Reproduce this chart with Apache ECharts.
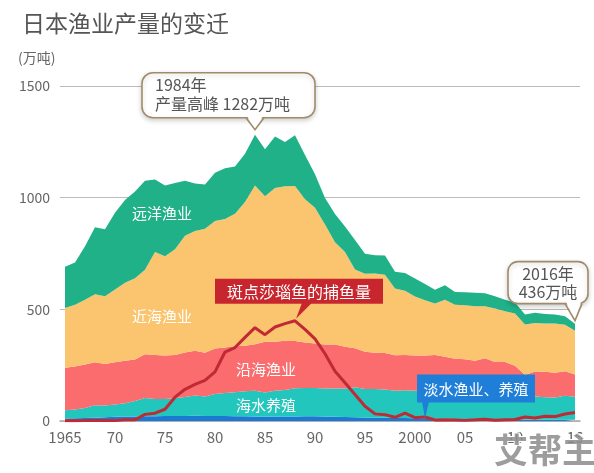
<!DOCTYPE html>
<html>
<head>
<meta charset="utf-8">
<script src="https://cdn.jsdelivr.net/npm/echarts@6/dist/echarts.min.js"></script>
<style>
html,body{margin:0;padding:0;background:#fff;}
#main{width:594px;height:473px;}
</style>
</head>
<body>
<div id="main"></div>
<script>
// Years (category axis)
const years = [];
for (let y = 1965; y <= 2016; y++) years.push(String(y));

// 淡水渔业、养殖 (万吨)
const freshwater = [11,12,13,15,17,19,20,20,21,21, 22,22,22,23,22,22,22,21,21,20, 19,20,20,20,21,21,20,19,18,17, 16,15,14,13,13,12,11,10,10,9, 8,8,8,7,7,7,6,6,6,6, 6,6];
// 海水养殖
const marineAqua = [37,40,45,55,52,55,60,69,82,78, 77,80,86,91,88,99,103,108,112,116, 109,115,119,127,127,127,126,127,127,134, 127,128,127,123,125,123,126,133,125,121, 121,118,124,115,120,111,87,104,100,99, 107,103];
// 沿海渔业
const coastal = [190,192,195,193,186,189,190,186,196,197, 194,193,199,200,196,204,204,206,204,208, 227,220,220,211,203,199,197,196,187,175, 167,163,164,158,158,158,156,152,153,149, 147,144,149,142,137,129,113,112,115,111, 110,99];
// 近海渔业
const offshore = [268,276,290,304,304,326,349,364,378,461, 445,474,522,537,555,570,576,593,644,710, 651,688,692,694,642,608,537,458,425,352, 349,354,350,299,287,265,248,231,255,241, 242,244,233,240,227,234,226,217,216,221, 208,196];
// 远洋渔业
const distant = [185,190,240,300,300,343,370,389,399,324, 317,297,247,212,198,217,227,211,216,228, 211,231,198,227,198,150,118,127,114,132, 90,82,86,75,80,80,72,62,65,58, 58,60,58,55,52,50,45,46,42,40, 38,32];
// 斑点莎瑙鱼的捕鱼量
const sardine = [1.0,1.3,1.7,2.6,1.7,1.7,5.7,5.8,29.7,35.2, 52.6,106.6,142,163.7,181.7,219.8,308.9,329,374.5,417.9, 386.6,421,436.2,448.8,409.9,367.8,301,222.4,171.4,118.9, 66.1,31.9,28.4,16.7,35.1,15,17.8,5,5.2,5, 2.8,5.3,7.9,3.5,5.7,7,17.6,13.5,21.5,19.6, 31.1,37.8];

// Axis tick labels
const yTicks = [0, 500, 1000, 1500];
const xTickLabels = {'1965':'1965','1970':'70','1975':'75','1980':'80','1985':'85','1990':'90','1995':'95','2000':'2000','2005':'05','2010':'10','2016':'16'};

const FONT = '"Noto Sans CJK SC", "Noto Sans", sans-serif';
const C = {
  blue: '#1b78d3', teal: '#22c6bc', red: '#fa6c6d', yellow: '#fac56e', green: '#20b189', line: '#bf2a35'
};

const chart = echarts.init(document.getElementById('main'), null, {renderer: 'canvas'});

function area(name, data, color) {
  return {
    name, type: 'line', stack: 'total', data, symbol: 'none', smooth: false,
    lineStyle: {width: 0}, areaStyle: {color, opacity: 1}, itemStyle: {color},
    z: 2, silent: true
  };
}

const option = {
  animation: false,
  backgroundColor: '#fff',
  title: {
    text: '日本渔业产量的变迁', left: 17, top: 7,
    textStyle: {fontFamily: FONT, fontSize: 23, fontWeight: 'normal', color: '#555'}
  },
  grid: {left: 60, right: 14, top: 86, bottom: 52},
  xAxis: {
    type: 'category', data: years, boundaryGap: true,
    axisLine: {show: true, lineStyle: {color: '#aaa', width: 1.5}},
    axisTick: {show: false},
    axisLabel: {
      interval: function (idx, val) { return xTickLabels.hasOwnProperty(val); },
      formatter: function (val) { return xTickLabels[val] || ''; },
      color: '#666', fontSize: 15, fontFamily: FONT, margin: 9
    },
    splitLine: {show: false}
  },
  yAxis: {
    type: 'value', min: yTicks[0], max: yTicks[yTicks.length - 1], interval: 500,
    axisLine: {show: false}, axisTick: {show: false},
    axisLabel: {color: '#666', fontSize: 14, fontFamily: FONT, margin: 10, formatter: function (v) { return String(v); }},
    splitLine: {show: true, lineStyle: {color: '#bbb', width: 1.2}}
  },
  series: [
    area('淡水渔业、养殖', freshwater, C.blue),
    area('海水养殖', marineAqua, C.teal),
    area('沿海渔业', coastal, C.red),
    area('近海渔业', offshore, C.yellow),
    area('远洋渔业', distant, C.green),
    {
      name: '斑点莎瑙鱼的捕鱼量', type: 'line', data: sardine, symbol: 'none',
      lineStyle: {color: C.line, width: 3}, itemStyle: {color: C.line}, z: 5, silent: true
    }
  ]
};
chart.setOption(option);

// Annotation positions derived from the data through the chart's scales
const totals = years.map((_, i) => freshwater[i] + marineAqua[i] + coastal[i] + offshore[i] + distant[i]);
const peakIdx = totals.indexOf(Math.max.apply(null, totals));
const lastIdx = years.length - 1;
const sarIdx = sardine.indexOf(Math.max.apply(null, sardine));
const fwIdx = years.indexOf('2001');
const px = (i, v) => chart.convertToPixel({gridIndex: 0}, [years[i], v]);
const p1 = px(peakIdx, totals[peakIdx]);
const p2 = px(lastIdx, totals[lastIdx]);
const p3 = px(sarIdx, sardine[sarIdx]);
const p4 = px(fwIdx, freshwater[fwIdx]);

const graphics = [];
const BORDER = '#a08c6a';

function callout(x, y, w, h, r, b1, b2, tx, ty) {
  graphics.push({
    type: 'rect', z: 100, shape: {x, y, width: w, height: h, r},
    style: {fill: '#fff', stroke: BORDER, lineWidth: 1.6, shadowBlur: 5, shadowColor: 'rgba(0,0,0,0.18)', shadowOffsetY: 2}
  });
  graphics.push({
    type: 'polygon', z: 101, shape: {points: [[b1, y + h - 2], [b2, y + h - 2], [tx, ty]]},
    style: {fill: '#fff'}
  });
  graphics.push({
    type: 'polyline', z: 102, shape: {points: [[b1 - 1, y + h], [tx, ty], [b2 + 1, y + h]]},
    style: {stroke: BORDER, lineWidth: 1.6, fill: null}
  });
}

// unit label
graphics.push({type: 'text', z: 100, x: 18, y: 58, style: {text: '(万吨)', fill: '#666', font: '14px ' + FONT, textVerticalAlign: 'middle'}});

// Callout 1: peak
(function () {
  const x = p1[0] - 113, y = p1[1] - 62, w = 173, h = 45;
  callout(x, y, w, h, 11, p1[0] - 8, p1[0] + 8, p1[0], p1[1] - 5);
  graphics.push({type: 'text', z: 103, x: x + 13, y: y + 12, style: {text: '1984年', fill: '#555', font: '16px ' + FONT, textVerticalAlign: 'middle'}});
  graphics.push({type: 'text', z: 103, x: x + 13, y: y + 31, style: {text: '产量高峰 1282万吨', fill: '#555', font: '16px ' + FONT, textVerticalAlign: 'middle'}});
})();

// Callout 2: 2016
(function () {
  const x = p2[0] - 67, y = p2[1] - 62, w = 80, h = 42;
  callout(x, y, w, h, 10, p2[0] - 9, p2[0] + 6, p2[0], p2[1] - 3);
  graphics.push({type: 'text', z: 103, x: x + w / 2, y: y + 12, style: {text: '2016年', fill: '#555', font: '16px ' + FONT, textAlign: 'center', textVerticalAlign: 'middle'}});
  graphics.push({type: 'text', z: 103, x: x + w / 2, y: y + 30, style: {text: '436万吨', fill: '#555', font: '16px ' + FONT, textAlign: 'center', textVerticalAlign: 'middle'}});
})();

// Red label: sardine
(function () {
  const x = p3[0] - 80, y = p3[1] - 42, w = 168, h = 25;
  graphics.push({type: 'polygon', z: 100, shape: {points: [[p3[0] + 7, y + h - 1], [p3[0] + 17, y + h - 1], [p3[0] + 1, p3[1] - 2]]}, style: {fill: '#c8262f'}});
  graphics.push({type: 'rect', z: 100, shape: {x, y, width: w, height: h}, style: {fill: '#c8262f'}});
  graphics.push({type: 'text', z: 101, x: x + w / 2, y: y + h / 2 + 1, style: {text: '斑点莎瑙鱼的捕鱼量', fill: '#fff', font: '16px ' + FONT, textAlign: 'center', textVerticalAlign: 'middle'}});
})();

// Blue label: freshwater
(function () {
  const x = p4[0] - 8, y = p4[1] - 44, w = 118, h = 28;
  graphics.push({type: 'polygon', z: 100, shape: {points: [[p4[0] - 3, y + h - 1], [p4[0] + 4, y + h - 1], [p4[0], p4[1]]]}, style: {fill: '#1f7fd8'}});
  graphics.push({type: 'rect', z: 100, shape: {x, y, width: w, height: h}, style: {fill: '#1f7fd8'}});
  graphics.push({type: 'text', z: 101, x: x + w / 2, y: y + h / 2 + 1, style: {text: '淡水渔业、养殖', fill: '#fff', font: '15px ' + FONT, textAlign: 'center', textVerticalAlign: 'middle'}});
})();

// Area labels
[['远洋渔业', 162, 213], ['近海渔业', 162, 316], ['沿海渔业', 266, 369], ['海水养殖', 266, 405]].forEach(function (a) {
  graphics.push({type: 'text', z: 101, x: a[1], y: a[2], style: {text: a[0], fill: '#fff', font: '15px ' + FONT, textAlign: 'center', textVerticalAlign: 'middle'}});
});

// Watermark
graphics.push({type: 'text', z: 120, x: 545, y: 450, style: {text: '艾帮主', fill: 'rgba(140,140,140,0.85)', stroke: '#fff', lineWidth: 2, font: 'bold 34px ' + FONT, textAlign: 'center', textVerticalAlign: 'middle'}});

chart.setOption({graphic: graphics});
</script>
</body>
</html>
